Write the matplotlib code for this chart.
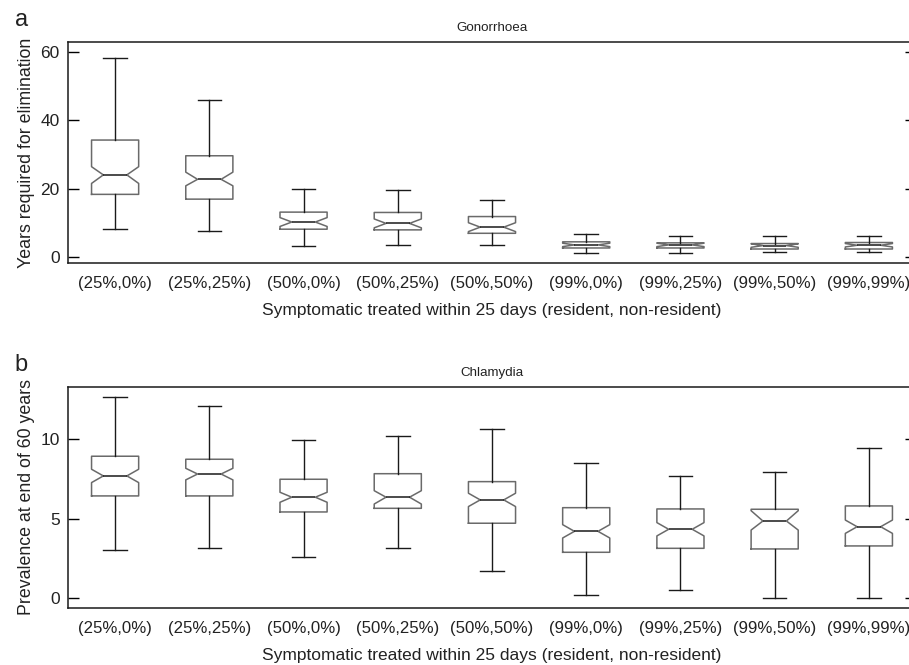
import matplotlib
matplotlib.use("Agg")
import matplotlib.pyplot as plt

plt.rcParams['font.family'] = ['Liberation Sans', 'DejaVu Sans']

# Сценарии лечения (резиденты, нерезиденты)
scenarios = ['(25%,0%)', '(25%,25%)', '(50%,0%)', '(50%,25%)', '(50%,50%)',
             '(99%,0%)', '(99%,25%)', '(99%,50%)', '(99%,99%)']

# a: гонорея, годы до элиминации
gon_whislo = [8.3, 7.6, 3.1, 3.4, 3.4, 1.2, 1.2, 1.5, 1.5]
gon_q1 = [18.3, 16.9, 8.1, 7.9, 6.9, 2.6, 2.6, 2.3, 2.3]
gon_cilo = [21.5, 20.8, 8.9, 8.5, 7.4, 3.0, 3.0, 2.8, 2.9]
gon_med = [24.0, 22.7, 10.2, 9.8, 8.7, 3.5, 3.5, 3.3, 3.4]
gon_cihi = [26.4, 24.8, 11.5, 11.1, 10.0, 4.0, 4.0, 3.8, 3.9]
gon_q3 = [34.2, 29.6, 13.1, 13.0, 11.8, 4.4, 4.1, 3.9, 4.2]
gon_whishi = [58.1, 45.9, 19.8, 19.5, 16.6, 6.6, 6.1, 6.1, 6.1]

# b: хламидиоз, распространённость через 60 лет
chl_whislo = [3.0, 3.13, 2.58, 3.13, 1.68, 0.17, 0.49, 0.0, 0.0]
chl_q1 = [6.43, 6.43, 5.42, 5.65, 4.71, 2.88, 3.13, 3.09, 3.28]
chl_cilo = [7.27, 7.44, 6.03, 5.92, 5.76, 3.78, 3.91, 4.28, 4.07]
chl_med = [7.69, 7.81, 6.35, 6.35, 6.18, 4.20, 4.33, 4.85, 4.49]
chl_cihi = [8.11, 8.17, 6.66, 6.76, 6.60, 4.62, 4.75, 5.50, 4.91]
chl_q3 = [8.93, 8.74, 7.48, 7.83, 7.33, 5.69, 5.61, 5.59, 5.80]
chl_whishi = [12.68, 12.12, 9.94, 10.19, 10.63, 8.49, 7.67, 7.92, 9.45]


def make_stats(lo, q1, cilo, med, cihi, q3, hi):
    stats = []
    for i in range(len(med)):
        stats.append(dict(whislo=lo[i], q1=q1[i], cilo=cilo[i], med=med[i],
                          cihi=cihi[i], q3=q3[i], whishi=hi[i], fliers=[]))
    return stats


def draw_panel(ax, stats, title, ylabel, letter, ylim, yticks):
    ax.bxp(stats, positions=range(1, len(stats) + 1), widths=0.5,
           shownotches=True, showfliers=False,
           boxprops=dict(color='#6a6a6a', linewidth=1.1),
           whiskerprops=dict(color='#1a1a1a', linewidth=1.0, linestyle='-'),
           capprops=dict(color='#1a1a1a', linewidth=1.0),
           medianprops=dict(color='#1a1a1a', linewidth=1.1))
    ax.set_xlim(0.5, 9.5)
    ax.set_ylim(*ylim)
    ax.set_yticks(yticks)
    ax.set_xticks(range(1, len(scenarios) + 1))
    ax.set_xticklabels(scenarios, fontsize=12.1, color='#222222')
    ax.tick_params(axis='x', length=0, pad=9)
    ax.tick_params(axis='y', direction='in', length=8, width=1, labelsize=12.5,
                   labelcolor='#222222', right=True, pad=6)
    ax.spines['right'].set_visible(False)
    for s in ['left', 'top', 'bottom']:
        ax.spines[s].set_linewidth(1.1)
        ax.spines[s].set_color('#1a1a1a')
    ax.set_xlabel('Symptomatic treated within 25 days (resident, non-resident)',
                  fontsize=12.5, color='#222222', labelpad=9)
    ax.set_ylabel(ylabel, fontsize=12.8, color='#222222', labelpad=4)
    ax.set_title(title, fontsize=9.6, color='#222222', pad=8)
    ax.text(-0.063, 1.05, letter, transform=ax.transAxes, fontsize=17,
            color='#222222', ha='left', va='bottom')


fig = plt.figure(figsize=(9.09, 6.65), dpi=100)
ax1 = fig.add_axes([0.0748, 0.6045, 0.9329, 0.3323])
ax2 = fig.add_axes([0.0748, 0.0857, 0.9329, 0.3328])

draw_panel(ax1, make_stats(gon_whislo, gon_q1, gon_cilo, gon_med, gon_cihi, gon_q3, gon_whishi),
           'Gonorrhoea', 'Years required for elimination', 'a', (-1.8, 62.9), [0, 20, 40, 60])
draw_panel(ax2, make_stats(chl_whislo, chl_q1, chl_cilo, chl_med, chl_cihi, chl_q3, chl_whishi),
           'Chlamydia', 'Prevalence at end of 60 years', 'b', (-0.63, 13.31), [0, 5, 10])

fig.savefig('out.png', dpi=100)
